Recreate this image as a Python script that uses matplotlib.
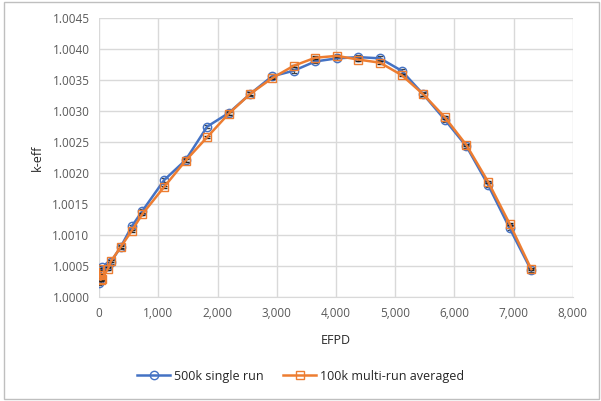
import numpy as np
import matplotlib.pyplot as plt
from matplotlib.patches import Rectangle
from matplotlib.lines import Line2D
from matplotlib.ticker import FuncFormatter, MultipleLocator

plt.rcParams['font.family'] = ['Open Sans', 'DejaVu Sans']

efpd = [0, 10, 25, 50, 150, 200, 365, 550, 730, 1100, 1460, 1825, 2190, 2555,
        2920, 3285, 3650, 4015, 4380, 4745, 5110, 5475, 5840, 6205, 6570,
        6935, 7300]

k_single = [1.00022, 1.00030, 1.00040, 1.00048, 1.00050, 1.00057, 1.00081,
            1.00114, 1.00139, 1.00189, 1.00221, 1.00275, 1.00297, 1.00328,
            1.00356, 1.00365, 1.00380, 1.00385, 1.00387, 1.00385, 1.00365,
            1.00327, 1.00286, 1.00243, 1.00181, 1.00111, 1.00043]
err_single = [0.00003] * len(efpd)

k_multi = [1.00045, 1.00036, 1.00028, 1.00030, 1.00046, 1.00058, 1.00081,
           1.00107, 1.00134, 1.00178, 1.00220, 1.00258, 1.00296, 1.00328,
           1.00353, 1.00373, 1.00386, 1.00389, 1.00383, 1.00378, 1.00358,
           1.00327, 1.00290, 1.00245, 1.00186, 1.00118, 1.00045]
err_multi = [0.00002] * len(efpd)

labels = ['500k single run', '100k multi-run averaged']

blue = '#4472C4'
orange = '#ED7D31'
grey = '#595959'

fig = plt.figure(figsize=(6.01, 4.01), dpi=100)
ax = fig.add_axes([0.165, 0.259, 0.788, 0.696])

ax.errorbar(efpd, k_single, yerr=err_single, color=blue, lw=1.8,
            marker='o', ms=6, mfc='none', mec=blue, mew=1,
            ecolor='#404040', elinewidth=0.8, capsize=2.5, capthick=0.8,
            zorder=3)
ax.errorbar(efpd, k_multi, yerr=err_multi, color=orange, lw=1.8,
            marker='s', ms=6, mfc='none', mec=orange, mew=1,
            ecolor='#202020', elinewidth=0.8, capsize=2.5, capthick=0.8,
            zorder=4)

ax.set_xlim(0, 8000)
ax.set_ylim(1.0, 1.0045)
ax.xaxis.set_major_locator(MultipleLocator(1000))
ax.yaxis.set_major_locator(MultipleLocator(0.0005))
ax.xaxis.set_major_formatter(FuncFormatter(lambda v, p: f'{v:,.0f}'))
ax.yaxis.set_major_formatter(FuncFormatter(lambda v, p: f'{v:.4f}'))
ax.grid(True, color='#D9D9D9', lw=1)
ax.set_axisbelow(True)
for s in ['top', 'right', 'left']:
    ax.spines[s].set_visible(False)
ax.spines['bottom'].set_color('#D9D9D9')
ax.tick_params(length=0, labelsize=8.5, colors=grey, pad=7)
ax.set_xlabel('EFPD', fontsize=9, color='#262626', labelpad=10)
ax.set_ylabel('k-eff', fontsize=9, color='#262626', labelpad=6)

handles = [Line2D([], [], color=blue, lw=1.8, marker='o', ms=6, mfc='none', mew=1),
           Line2D([], [], color=orange, lw=1.8, marker='s', ms=6, mfc='none', mew=1)]
leg = fig.legend(handles, labels, loc='center',
                 bbox_to_anchor=(0.5, 0.062), ncol=2, frameon=False,
                 fontsize=9, handlelength=2.6, handletextpad=0.3,
                 columnspacing=1.6)
for t in leg.get_texts():
    t.set_color('#262626')

fig.patches.append(Rectangle((0.006, 0.006), 0.99, 0.988, transform=fig.transFigure,
                             fill=False, ec='#BFBFBF', lw=1))

fig.savefig('out.png', dpi=100)
